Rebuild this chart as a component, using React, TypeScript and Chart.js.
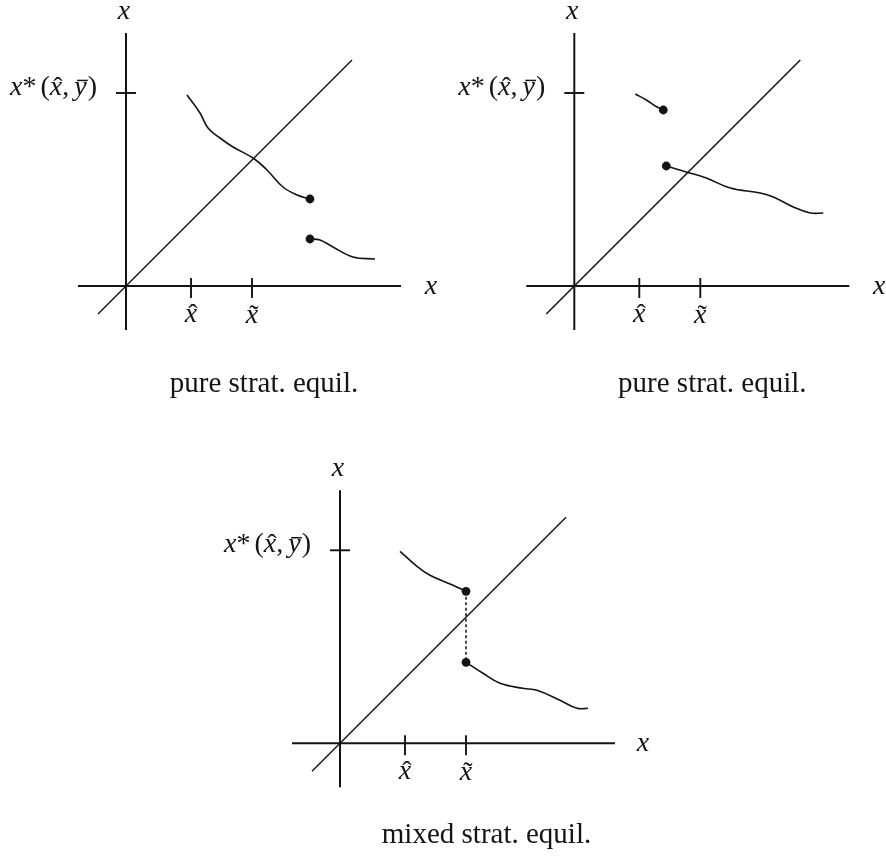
import React, { useEffect, useRef } from "react";
import { Chart, registerables } from "chart.js";

Chart.register(...registerables);

type Pt = { x: number; y: number };

// Shared axis geometry (1 unit = 10 px)
const AXIS_X = [-4.8, 27.5];
const AXIS_Y = [-4.4, 25.3];
const DIAGONAL = [-2.8, 22.6];
const X_STAR_LEVEL = 19.3;
const X_HAT = 6.5;
const X_TILDE = 12.6;

// Captions under each panel
const CAPTIONS = ["pure strat. equil.", "pure strat. equil.", "mixed strat. equil."];

// Panel 1: best response crosses the 45° line, jump at the right
const P1_UPPER: Pt[] = [
  { x: 6.1, y: 19.1 }, { x: 7.4, y: 17.3 }, { x: 8.2, y: 15.8 }, { x: 9.4, y: 14.8 },
  { x: 10.7, y: 13.9 }, { x: 12.7, y: 12.8 }, { x: 14.1, y: 11.6 }, { x: 15.7, y: 9.9 },
  { x: 17.1, y: 9.1 }, { x: 18.4, y: 8.7 },
];
const P1_LOWER: Pt[] = [
  { x: 18.4, y: 4.7 }, { x: 19.4, y: 4.6 }, { x: 20.7, y: 3.9 }, { x: 22.7, y: 2.9 }, { x: 24.9, y: 2.7 },
];
const P1_DOTS: Pt[] = [{ x: 18.4, y: 8.7 }, { x: 18.4, y: 4.7 }];

// Panel 2: jump occurs before the crossing
const P2_UPPER: Pt[] = [{ x: 6.1, y: 19.2 }, { x: 7.2, y: 18.6 }, { x: 8.1, y: 18.0 }, { x: 8.9, y: 17.6 }];
const P2_LOWER: Pt[] = [
  { x: 9.2, y: 12.0 }, { x: 11.2, y: 11.4 }, { x: 13.2, y: 10.8 }, { x: 15.6, y: 9.8 },
  { x: 18.6, y: 9.3 }, { x: 19.9, y: 8.9 }, { x: 21.9, y: 7.9 }, { x: 23.6, y: 7.3 }, { x: 24.9, y: 7.3 },
];
const P2_DOTS: Pt[] = [{ x: 8.9, y: 17.6 }, { x: 9.2, y: 12.0 }];

// Panel 3: jump straddles the 45° line at x̃
const P3_UPPER: Pt[] = [
  { x: 6.0, y: 19.2 }, { x: 7.7, y: 17.7 }, { x: 9.0, y: 16.8 }, { x: 11.3, y: 15.8 }, { x: 12.6, y: 15.2 },
];
const P3_LOWER: Pt[] = [
  { x: 12.6, y: 8.1 }, { x: 14.3, y: 7.0 }, { x: 16.0, y: 6.0 }, { x: 18.3, y: 5.5 },
  { x: 19.7, y: 5.3 }, { x: 22.0, y: 4.3 }, { x: 23.7, y: 3.5 }, { x: 24.8, y: 3.5 },
];
const P3_DOTS: Pt[] = [{ x: 12.6, y: 15.2 }, { x: 12.6, y: 8.1 }];
const P3_JUMP: Pt[] = [{ x: 12.6, y: 15.2 }, { x: 12.6, y: 8.1 }];

const INK = "#141414";
const SERIF = '"Liberation Serif", "Times New Roman", serif';
const MATH_SIZE = 28;
const CAPTION_SIZE = 29;

type Part = { t: string; it?: boolean; scale?: number; acc?: "hat" | "tilde" | "bar"; pad?: number };

const fontOf = (p: Part, size: number) =>
  `${p.it ? "italic " : ""}${Math.round(size * (p.scale ?? 1))}px ${SERIF}`;

function drawRich(
  ctx: CanvasRenderingContext2D,
  parts: Part[],
  x: number,
  y: number,
  align: "left" | "center" | "right",
  size: number
) {
  const widths = parts.map((p) => {
    ctx.font = fontOf(p, size);
    return ctx.measureText(p.t).width + (p.pad ?? 0);
  });
  const total = widths.reduce((a, b) => a + b, 0);
  let cx = align === "left" ? x : align === "right" ? x - total : x - total / 2;
  ctx.textBaseline = "alphabetic";
  parts.forEach((p, i) => {
    ctx.font = fontOf(p, size);
    const w = ctx.measureText(p.t).width;
    ctx.textAlign = "left";
    ctx.fillText(p.t, cx, y);
    if (p.acc === "bar") {
      ctx.save();
      ctx.strokeStyle = INK;
      ctx.lineWidth = 1.5;
      ctx.beginPath();
      ctx.moveTo(cx + size * 0.1, y - size * 0.52);
      ctx.lineTo(cx + w + size * 0.04, y - size * 0.52);
      ctx.stroke();
      ctx.restore();
    } else if (p.acc) {
      const mid = cx + w / 2 + (p.it ? size * 0.07 : 0);
      ctx.font = fontOf({ t: "" }, size);
      ctx.textAlign = "center";
      ctx.fillText(p.acc === "hat" ? "\u02C6" : "\u02DC", mid, y + size * 0.03);
    }
    cx += widths[i];
  });
}

const X_LABEL: Part[] = [{ t: "x", it: true }];
const XHAT_LABEL: Part[] = [{ t: "x", it: true, acc: "hat" }];
const XTILDE_LABEL: Part[] = [{ t: "x", it: true, acc: "tilde" }];
const XSTAR_LABEL: Part[] = [
  { t: "x", it: true },
  { t: "*", pad: 4 },
  { t: "(" },
  { t: "x", it: true, acc: "hat" },
  { t: ",", pad: 5 },
  { t: "y", it: true, acc: "bar", pad: 1 },
  { t: ")" },
];

type PanelSpec = {
  left: number;
  top: number;
  width: number;
  height: number;
  originX: number;
  originY: number;
  upper: Pt[];
  lower: Pt[];
  dots: Pt[];
  jump?: Pt[];
  caption: string;
  captionX: number;
  captionY: number;
  rightLabelX: number;
};

const PANELS: PanelSpec[] = [
  {
    left: 0, top: 0, width: 443, height: 410, originX: 126, originY: 286,
    upper: P1_UPPER, lower: P1_LOWER, dots: P1_DOTS,
    caption: CAPTIONS[0], captionX: 13.8, captionY: -10.6, rightLabelX: 30.5,
  },
  {
    left: 443, top: 0, width: 443, height: 410, originX: 131.3, originY: 286,
    upper: P2_UPPER, lower: P2_LOWER, dots: P2_DOTS,
    caption: CAPTIONS[1], captionX: 13.8, captionY: -10.6, rightLabelX: 30.5,
  },
  {
    left: 150, top: 430, width: 600, height: 428, originX: 190, originY: 313.3,
    upper: P3_UPPER, lower: P3_LOWER, dots: P3_DOTS, jump: P3_JUMP,
    caption: CAPTIONS[2], captionX: 14.65, captionY: -10.0, rightLabelX: 30.3,
  },
];

function lineSet(data: Pt[], width: number, extra: Record<string, unknown> = {}) {
  return {
    data,
    borderColor: INK,
    borderWidth: width,
    pointRadius: 0,
    fill: false,
    tension: 0,
    ...extra,
  };
}

function buildConfig(spec: PanelSpec): any {
  const datasets: any[] = [
    lineSet([{ x: AXIS_X[0], y: 0 }, { x: AXIS_X[1], y: 0 }], 2),
    lineSet([{ x: 0, y: AXIS_Y[0] }, { x: 0, y: AXIS_Y[1] }], 2),
    lineSet([{ x: DIAGONAL[0], y: DIAGONAL[0] }, { x: DIAGONAL[1], y: DIAGONAL[1] }], 1.5),
    lineSet([{ x: -1, y: X_STAR_LEVEL }, { x: 1, y: X_STAR_LEVEL }], 1.9),
    lineSet([{ x: X_HAT, y: 0.8 }, { x: X_HAT, y: -1.2 }], 1.9),
    lineSet([{ x: X_TILDE, y: 0.8 }, { x: X_TILDE, y: -1.2 }], 1.9),
    lineSet(spec.upper, 1.6, { tension: 0.4 }),
    lineSet(spec.lower, 1.6, { tension: 0.4 }),
  ];
  if (spec.jump) {
    datasets.push(lineSet(spec.jump, 1.5, { borderDash: [3, 2.5] }));
  }
  datasets.push({
    data: spec.dots,
    showLine: false,
    pointRadius: 4.4,
    pointBackgroundColor: INK,
    pointBorderColor: INK,
    pointBorderWidth: 0,
  });

  const labels = {
    id: "panelLabels",
    afterDatasetsDraw(chart: any) {
      const { ctx } = chart;
      const sx = chart.scales.x;
      const sy = chart.scales.y;
      const px = (v: number) => sx.getPixelForValue(v);
      const py = (v: number) => sy.getPixelForValue(v);
      ctx.save();
      ctx.fillStyle = INK;
      drawRich(ctx, X_LABEL, px(-0.2), py(26.7), "center", MATH_SIZE);
      drawRich(ctx, X_LABEL, px(spec.rightLabelX), py(-0.8), "center", MATH_SIZE);
      drawRich(ctx, XHAT_LABEL, px(X_HAT), py(-3.6), "center", MATH_SIZE);
      drawRich(ctx, XTILDE_LABEL, px(X_TILDE), py(-3.7), "center", MATH_SIZE);
      drawRich(ctx, XSTAR_LABEL, px(-2.9), py(X_STAR_LEVEL - 0.2), "right", MATH_SIZE);
      ctx.font = `${CAPTION_SIZE}px ${SERIF}`;
      ctx.textAlign = "center";
      ctx.textBaseline = "alphabetic";
      ctx.fillText(spec.caption, px(spec.captionX), py(spec.captionY));
      ctx.restore();
    },
  };

  return {
    type: "line",
    data: { datasets },
    options: {
      animation: false,
      responsive: false,
      maintainAspectRatio: false,
      events: [],
      layout: { padding: 0, autoPadding: false },
      plugins: { legend: { display: false }, tooltip: { enabled: false } },
      scales: {
        x: {
          type: "linear",
          display: false,
          min: -spec.originX / 10,
          max: (spec.width - spec.originX) / 10,
        },
        y: {
          type: "linear",
          display: false,
          min: -(spec.height - spec.originY) / 10,
          max: spec.originY / 10,
        },
      },
    },
    plugins: [labels],
  };
}

function Panel({ spec }: { spec: PanelSpec }) {
  const ref = useRef<HTMLCanvasElement | null>(null);
  useEffect(() => {
    if (!ref.current) return;
    const chart = new Chart(ref.current, buildConfig(spec));
    return () => chart.destroy();
  }, [spec]);
  return (
    <canvas
      ref={ref}
      width={spec.width}
      height={spec.height}
      style={{ position: "absolute", left: spec.left, top: spec.top, width: spec.width, height: spec.height }}
    />
  );
}

export default function App() {
  return (
    <div
      style={{
        position: "absolute",
        left: 0,
        top: 0,
        width: 886,
        height: 858,
        background: "#ffffff",
        overflow: "hidden",
      }}
    >
      {PANELS.map((spec, i) => (
        <Panel key={i} spec={spec} />
      ))}
    </div>
  );
}
